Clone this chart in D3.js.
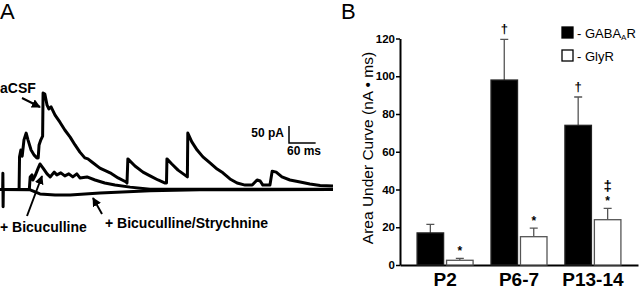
<!DOCTYPE html>
<html>
<head>
<meta charset="utf-8">
<script src="https://cdn.jsdelivr.net/npm/d3@7"></script>
<style>
  body { margin: 0; background: #fff; }
  text { font-family: "Liberation Sans", Arial, sans-serif; }
</style>
</head>
<body>
<div id="chart"></div>
<script>
// ---- panel A: traces, [time ms, current pA]
const acsfTrace = [[0,0],[6,0],[6.5,48],[7,-51],[7.5,0],[43,0],[44,96],[47,116],[50,98],[54,146],[59,166],[63,146],[70,116],
  [77,101],[83,93],[86,93],[88,131],[92,146],[96,157],[97,284],[101,281],[106,248],[110,237],[115,243],[124,219],[135,198],
  [146,175],[158,154],[169,131],[180,110],[191,93],[198,90],[207,81],[225,63],[248,49],[266,34],[284,22],[286,19],[288,90],
  [304,69],[322,51],[338,40],[356,28],[372,19],[375,19],[376,90],[387,75],[401,57],[419,40],[422,37],[423,166],[432,140],
  [444,116],[457,96],[473,78],[489,60],[502,49],[518,31],[534,19],[552,13],[568,13],[579,28],[586,25],[592,13],[608,13],
  [613,54],[622,51],[635,37],[653,28],[676,22],[698,16],[721,12],[750,10]];
const bicTrace = [[0,0],[66,0],[68,37],[72,43],[74,28],[79,40],[86,63],[90,75],[97,63],[106,46],[113,37],[122,51],[128,43],
  [137,49],[146,40],[155,46],[164,37],[173,46],[180,34],[196,37],[214,28],[236,19],[259,13],[293,7],[338,1],[750,1]];
const bicStrTrace = [[0,0],[68,-1],[90,-13],[124,-16],[158,-16],[225,-10],[338,-4],[450,-1],[750,0]];
const scaleBarMs = 60, scaleBarPa = 50;

// ---- panel B: bars
const categories = ["P2", "P6-7", "P13-14"];
const gabaMean = [17, 98, 74];
const gabaSem = [4.5, 21.5, 15];
const glyMean = [2.5, 15, 24];
const glySem = [1, 4.5, 6];
const gabaMarks = ["", "†", "†"];
const glyMarks = ["*", "*", "‡*"];
const yTicks = [0, 20, 40, 60, 80, 100, 120];

const width = 640, height = 290;

const svg = d3.select("#chart")
    .append("svg")
    .attr("width", width)
    .attr("height", height)
    .attr("viewBox", [0, 0, width, height]);

svg.append("rect").attr("width", width).attr("height", height).attr("fill", "#fff");

// panel letters
svg.append("text").attr("x", 0).attr("y", 19).attr("font-size", 22).text("A");
svg.append("text").attr("x", 341).attr("y", 19).attr("font-size", 22).text("B");

// ===== A =====
let tx = d3.scaleLinear().domain([0, 750]).range([0, 333]);
let ty = d3.scaleLinear().domain([0, 300]).range([189.5, 87.5]);

let line = d3.line().x(d => tx(d[0])).y(d => ty(d[1]));

svg.append("g")
    .attr("fill", "none")
    .attr("stroke", "#000")
    .attr("stroke-width", 3)
    .attr("stroke-linejoin", "round")
    .selectAll("path")
    .data([bicStrTrace, bicTrace, acsfTrace])
    .join("path")
    .attr("d", line);

// scale bar
const sbx = 289, sby = 143;
svg.append("path")
    .attr("fill", "none")
    .attr("stroke", "#000")
    .attr("stroke-width", 1.5)
    .attr("d", `M${sbx},${sby - (ty(0) - ty(scaleBarPa))}V${sby}H${sbx + tx(scaleBarMs) - tx(0)}`);
svg.append("text").attr("x", 284).attr("y", 137).attr("text-anchor", "end")
    .attr("font-size", 12).attr("font-weight", "bold").text(scaleBarPa + " pA");
svg.append("text").attr("x", 287).attr("y", 155)
    .attr("font-size", 12).attr("font-weight", "bold").text(scaleBarMs + " ms");

// labels + arrows
svg.append("defs").append("marker")
    .attr("id", "head")
    .attr("viewBox", "0 0 10 10")
    .attr("refX", 9).attr("refY", 5)
    .attr("markerWidth", 9).attr("markerHeight", 9)
    .attr("markerUnits", "userSpaceOnUse")
    .attr("orient", "auto")
    .append("path").attr("d", "M0,0L10,5L0,10z").attr("fill", "#000");

const arrows = [[22, 98, 40, 107], [27, 216, 42, 176], [102, 214, 93, 198]];
svg.append("g")
    .attr("stroke", "#000")
    .attr("stroke-width", 2)
    .selectAll("line")
    .data(arrows)
    .join("line")
    .attr("x1", d => d[0]).attr("y1", d => d[1])
    .attr("x2", d => d[2]).attr("y2", d => d[3])
    .attr("marker-end", "url(#head)");

svg.append("text").attr("x", 0).attr("y", 93).attr("font-size", 14).attr("font-weight", "bold").text("aCSF");
svg.append("text").attr("x", 0).attr("y", 232).attr("font-size", 14).attr("font-weight", "bold").text("+ Bicuculline");
svg.append("text").attr("x", 105).attr("y", 228).attr("font-size", 14).attr("font-weight", "bold").text("+ Bicuculline/Strychnine");

// ===== B =====
let x0 = d3.scaleBand().domain(categories).range([400, 638]).paddingInner(0).paddingOuter(0.11);
let x1 = d3.scaleBand().domain(["gaba", "gly"]).range([-28, 28]).paddingInner(0.1);
let y = d3.scaleLinear().domain([0, 120]).range([265, 38.5]);

svg.append("g")
    .attr("transform", "translate(400,0)")
    .call(d3.axisLeft(y).tickValues(yTicks).tickSize(4).tickSizeOuter(0))
    .call(g => g.select(".domain").attr("stroke-width", 2))
    .call(g => g.selectAll(".tick line").attr("stroke-width", 1.5))
    .call(g => g.selectAll(".tick text")
        .attr("font-family", "Liberation Sans, Arial, sans-serif")
        .attr("font-size", 11.5).attr("font-weight", "bold").attr("fill", "#000").attr("x", -5));

svg.append("g")
    .attr("transform", "translate(0,265)")
    .call(d3.axisBottom(x0).tickSize(0).tickSizeOuter(0).tickPadding(8))
    .call(g => g.select(".domain").attr("stroke-width", 2))
    .call(g => g.selectAll(".tick text")
        .attr("font-family", "Liberation Sans, Arial, sans-serif")
        .attr("font-size", 19).attr("font-weight", "bold").attr("fill", "#000"));

svg.append("text")
    .attr("transform", "translate(373,148) rotate(-90)")
    .attr("text-anchor", "middle")
    .attr("font-size", 15.5)
    .text("Area Under Curve (nA • ms)");

const rows = categories.flatMap((c, i) => [
    { cat: c, key: "gaba", mean: gabaMean[i], sem: gabaSem[i], mark: gabaMarks[i] },
    { cat: c, key: "gly", mean: glyMean[i], sem: glySem[i], mark: glyMarks[i] }
]);
const cx = d => x0(d.cat) + x0.bandwidth() / 2 + x1(d.key);

// error bars
const eb = svg.append("g").attr("stroke", "#555").attr("stroke-width", 1.3).attr("fill", "none");
eb.selectAll("path")
    .data(rows)
    .join("path")
    .attr("d", d => {
        let m = cx(d) + x1.bandwidth() / 2;
        return `M${m},${y(d.mean)}V${y(d.mean + d.sem)}M${m - 4},${y(d.mean + d.sem)}H${m + 4}`;
    });

svg.append("g")
    .selectAll("rect")
    .data(rows)
    .join("rect")
    .attr("x", d => cx(d))
    .attr("y", d => y(d.mean))
    .attr("width", x1.bandwidth())
    .attr("height", d => y(0) - y(d.mean))
    .attr("fill", d => d.key === "gaba" ? "#000" : "#fff")
    .attr("stroke", d => d.key === "gaba" ? "#222" : "#555")
    .attr("stroke-width", 1.3);

// significance marks
const marks = svg.append("g").attr("text-anchor", "middle").attr("font-weight", "bold").attr("fill", "#000");
rows.filter(d => d.mark).forEach(d => {
    let m = cx(d) + x1.bandwidth() / 2;
    let top = y(d.mean + d.sem);
    if (d.mark === "†") {
        marks.append("text").attr("x", m).attr("y", top - 6).attr("font-size", 13).text("†");
    } else if (d.mark === "*") {
        marks.append("text").attr("x", m).attr("y", top - 3).attr("font-size", 12).text("*");
    } else {
        marks.append("text").attr("x", m).attr("y", top - 17).attr("font-size", 15).text("‡");
        marks.append("text").attr("x", m).attr("y", top - 3).attr("font-size", 12).text("*");
    }
});

// legend
const legend = [["#000", "GABA"], ["#fff", "Gly"]];
const lg = svg.append("g");
lg.selectAll("rect")
    .data(legend)
    .join("rect")
    .attr("x", 562).attr("y", (d, i) => 27 + i * 23)
    .attr("width", 11).attr("height", 11)
    .attr("fill", d => d[0])
    .attr("stroke", "#000").attr("stroke-width", 1.3);
let t1 = lg.append("text").attr("x", 577).attr("y", 38).attr("font-size", 13);
t1.append("tspan").text("- GABA");
t1.append("tspan").attr("font-size", 8).attr("dy", 2).text("A");
t1.append("tspan").attr("dy", -2).text("R");
lg.append("text").attr("x", 577).attr("y", 61).attr("font-size", 13).text("- GlyR");
</script>
</body>
</html>
